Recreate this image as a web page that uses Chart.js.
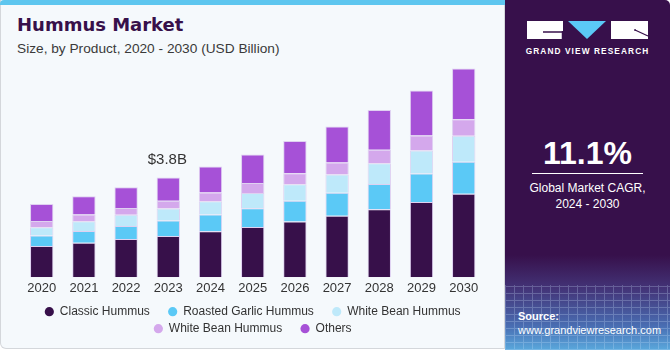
<!DOCTYPE html>
<html><head><meta charset="utf-8">
<script src="https://cdn.jsdelivr.net/npm/chart.js@4"></script>
<style>
html,body{margin:0;padding:0;width:670px;height:350px;overflow:hidden;background:#fff;font-family:"Liberation Sans",Arial,sans-serif;}
#left{position:absolute;left:0;top:0;width:503px;height:348px;background:#f5f9fc;border:1px solid #d4d7db;border-top:none;border-bottom-left-radius:6px;}
#stripe{position:absolute;left:0;top:0;width:505px;height:5px;background:#5ec6ef;border-top-left-radius:4px;}
#title{position:absolute;left:17px;top:14px;font-family:"DejaVu Sans";font-weight:bold;font-size:18px;color:#37104a;letter-spacing:0px;}
#sub{position:absolute;left:17px;top:41px;font-size:13.7px;color:#3a3a3a;}
#chartbox{position:absolute;left:0;top:56px;width:505px;height:294px;}
#side{position:absolute;left:505px;top:0;width:165px;height:350px;background:#37104b;border-top-right-radius:5px;overflow:hidden;}
#grad{position:absolute;left:0;top:255px;width:165px;height:95px;background:linear-gradient(to bottom,rgba(55,16,75,0) 0%,rgba(70,60,130,0.8) 35%,rgba(75,120,190,0.9) 75%,#5aa8dc 100%);}
#gridlines{position:absolute;left:0;top:285px;width:165px;height:65px;opacity:0.25;background-image:repeating-linear-gradient(90deg,#cfe6ff 0 1px,transparent 1px 9px),repeating-linear-gradient(0deg,#cfe6ff 0 1px,transparent 1px 7px);}
#cagr{position:absolute;left:0;width:165px;top:135px;text-align:center;color:#fff;font-weight:bold;font-size:32px;}
#rule{position:absolute;left:27px;top:173px;width:111px;height:1px;background:#fff;}
#cagrtxt{position:absolute;left:0;width:165px;top:180px;text-align:center;color:#fff;font-size:12px;line-height:16px;}
#src{position:absolute;left:13px;top:309px;color:#fff;font-size:11px;line-height:14px;}
#logotxt{position:absolute;left:0;width:165px;top:46px;text-align:center;color:#fff;font-weight:bold;font-size:8.3px;letter-spacing:1.1px;}
</style></head>
<body>
<div id="left"></div>
<div id="stripe"></div>
<div id="title">Hummus Market</div>
<div id="sub">Size, by Product, 2020 - 2030 (USD Billion)</div>
<div id="chartbox"><canvas id="c"></canvas></div>
<div id="side">
  <div id="grad"></div>
  <div id="gridlines"></div>
  <svg style="position:absolute;left:0;top:0" width="165" height="45">
    <rect x="22" y="21" width="36" height="18" fill="#fff"/>
    <polyline points="38,32 58,32" stroke="#37104b" stroke-width="1.3" fill="none"/>
    <polyline points="57.5,31 57.5,39" stroke="#37104b" stroke-width="1.5" fill="none"/>
    <polygon points="63,21 101,21 82,39" fill="#5bc9f6"/>
    <rect x="106" y="21" width="37" height="18" fill="#fff"/>
    <polyline points="130,30 143,36" stroke="#37104b" stroke-width="1.3" fill="none"/>
    <polyline points="130,29 130,31" stroke="#37104b" stroke-width="1.3" fill="none"/>
  </svg>
  <div id="logotxt">GRAND VIEW RESEARCH</div>
  <div id="cagr">11.1%</div>
  <div id="rule"></div>
  <div id="cagrtxt">Global Market CAGR,<br>2024 - 2030</div>
  <div id="src"><b>Source:</b><br>www.grandviewresearch.com</div>
</div>
<script>
const years = ['2020','2021','2022','2023','2024','2025','2026','2027','2028','2029','2030'];
const classicHummus = [1.19,1.31,1.45,1.57,1.75,1.91,2.12,2.34,2.58,2.86,3.17];
const roastedGarlicHummus = [0.40,0.45,0.50,0.59,0.63,0.71,0.79,0.87,0.96,1.08,1.22];
const whiteBeanHummus = [0.31,0.37,0.42,0.45,0.51,0.58,0.62,0.69,0.79,0.87,0.98];
const whiteBeanHummus2 = [0.24,0.25,0.26,0.30,0.33,0.38,0.42,0.46,0.51,0.57,0.63];
const others = [0.64,0.70,0.79,0.88,0.99,1.08,1.22,1.36,1.51,1.71,1.93];
const seriesNames = ['Classic Hummus','Roasted Garlic Hummus','White Bean Hummus','White Bean Hummus','Others'];
const annotatedYear = '2023';
const annotationText = '$3.8B';

const colors = ['#37104a','#5bc9f6','#bee9fa','#d4a8ec','#a651d7'];
const seriesData = [classicHummus, roastedGarlicHummus, whiteBeanHummus, whiteBeanHummus2, others];
const legendGapAfter = [true,true,false,true,false];

const annotationPlugin = {
  id:'annot',
  afterDatasetsDraw(chart){
    const idx = years.indexOf(annotatedYear);
    const meta = chart.getDatasetMeta(chart.data.datasets.length-1);
    const el = meta.data[idx];
    const ctx = chart.ctx;
    ctx.save();
    ctx.font = '15px "Liberation Sans", Arial, sans-serif';
    ctx.fillStyle = '#333';
    ctx.textAlign = 'center';
    ctx.textBaseline = 'bottom';
    ctx.fillText(annotationText, el.x - 1, el.y - 10);
    ctx.restore();
  }
};

new Chart(document.getElementById('c'), {
  type:'bar',
  data:{
    labels: years,
    datasets: seriesData.map((d,i)=>({
      label: seriesNames[i],
      data: d,
      backgroundColor: colors[i],
      borderColor: 'rgba(215,195,238,0.75)',
      borderWidth: 1,
      barPercentage: 0.553,
      categoryPercentage: 1
    }))
  },
  options:{
    responsive:true,
    maintainAspectRatio:false,
    animation:false,
    layout:{padding:{left:20.6,right:20.2,top:0,bottom:5.3}},
    scales:{
      x:{stacked:true,grid:{display:false,drawTicks:false},border:{display:false},
         ticks:{color:'#333',font:{size:13,family:'"Liberation Sans", Arial, sans-serif'},padding:3},
         afterFit(scale){ scale.height += 1.8; }},
      y:{stacked:true,display:false,min:0,max:8.4}
    },
    plugins:{
      tooltip:{enabled:false},
      legend:{
        position:'bottom',
        labels:{
          color:'#333',
          font:{size:12,family:'"Liberation Sans", Arial, sans-serif'},
          usePointStyle:true,
          pointStyle:'circle',
          boxWidth:9,
          boxHeight:6.5,
          padding:5,
          generateLabels(chart){
            const items = Chart.defaults.plugins.legend.labels.generateLabels(chart);
            items.forEach((it,i)=>{ it.text = it.text + (legendGapAfter[i] ? '    ' : ''); it.lineWidth = 0; });
            return items;
          }
        }
      }
    }
  },
  plugins:[annotationPlugin]
});
</script>
</body></html>
